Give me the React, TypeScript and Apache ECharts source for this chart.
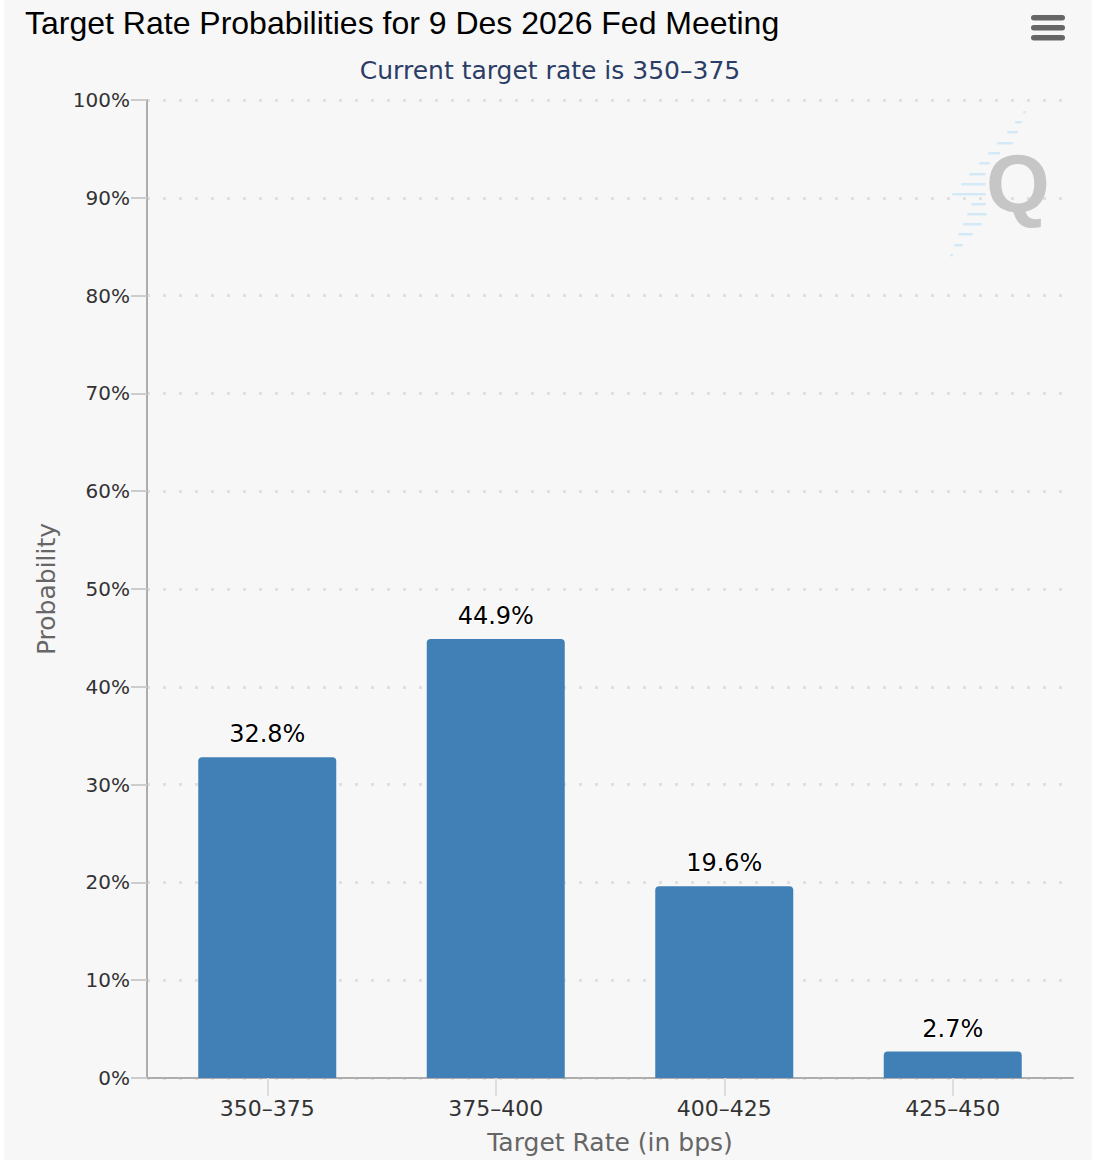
import React, { useEffect, useRef } from "react";
import * as echarts from "echarts";

const chartTitle = "Target Rate Probabilities for 9 Des 2026 Fed Meeting";
const chartSubtitle = "Current target rate is 350–375";
const categories = ["350–375", "375–400", "400–425", "425–450"];
const probabilities = [32.8, 44.9, 19.6, 2.7];
const xAxisTitle = "Target Rate (in bps)";
const yAxisTitle = "Probability";
const yMin = 0;
const yMax = 100;
const yStep = 10;

// decorative logo stripes: [y, x1, x2] in container pixels
const logoStripes: number[][] = [
  [111, 1019, 1022],
  [121, 1011, 1018],
  [131, 1003, 1014],
  [142, 993, 1009],
  [152, 984, 996],
  [162, 975, 986],
  [173, 965, 982],
  [183, 957, 982],
  [193, 948, 982],
  [203, 967, 982],
  [213, 963, 983],
  [223, 959, 978],
  [233, 954, 969],
  [244, 950, 959],
  [254, 946, 949],
];

export default function App() {
  const ref = useRef<HTMLDivElement>(null);
  useEffect(() => {
    if (!ref.current) return;
    const chart = echarts.init(ref.current, undefined, { renderer: "svg" });
    const stripeEls = logoStripes.map((s) => ({
      type: "rect",
      shape: { x: s[1], y: s[0], width: s[2] - s[1], height: 2.5, r: 1.25 },
      style: { fill: "#d3e9f8" },
      z: 1,
    }));
    const menuBars = [15, 25, 35].map((y) => ({
      type: "rect",
      shape: { x: 1027, y, width: 34, height: 5.5, r: 2.75 },
      style: { fill: "#666666" },
      z: 10,
    }));
    chart.setOption({
      animation: false,
      backgroundColor: "#f7f7f7",
      title: [
        {
          text: chartTitle,
          left: 16,
          top: 2,
          textStyle: {
            fontFamily: "Liberation Sans",
            fontSize: 32,
            fontWeight: "normal",
            color: "#000000",
          },
        },
        {
          text: chartSubtitle,
          left: 541,
          textAlign: "center",
          top: 53,
          textStyle: {
            fontFamily: "DejaVu Sans",
            fontSize: 25,
            fontWeight: "normal",
            color: "#2b3d66",
          },
        },
      ],
      graphic: [
        ...stripeEls,
        {
          type: "text",
          x: 982,
          y: 142,
          z: 2,
          style: {
            text: "Q",
            font: "bold 82px 'Liberation Sans'",
            fill: "#c6c6c6",
          },
        },
        ...menuBars,
      ],
      grid: [
        { left: 143, right: 19, top: 100, bottom: 82 },
        { left: 149, right: 25, top: 100, bottom: 82 },
      ],
      xAxis: [
        {
          gridIndex: 0,
          type: "category",
          data: [""],
          axisLine: { show: true, lineStyle: { color: "#adadad", width: 2 } },
          axisTick: { show: false },
          axisLabel: { show: false },
          splitLine: { show: false },
          name: xAxisTitle,
          nameLocation: "middle",
          nameGap: 52,
          nameTextStyle: {
            fontFamily: "DejaVu Sans",
            fontSize: 25,
            color: "#666666",
          },
        },
        {
          gridIndex: 1,
          type: "category",
          data: categories,
          axisLine: { show: false },
          axisTick: {
            show: true,
            alignWithLabel: true,
            length: 18,
            lineStyle: { color: "#dddddd", width: 2 },
          },
          axisLabel: {
            margin: 19,
            fontFamily: "DejaVu Sans",
            fontSize: 22,
            color: "#333333",
          },
          splitLine: { show: false },
        },
      ],
      yAxis: [
        {
          gridIndex: 0,
          type: "value",
          min: yMin,
          max: yMax,
          interval: yStep,
          axisLine: { show: true, lineStyle: { color: "#adadad", width: 2 } },
          axisTick: {
            show: true,
            length: 16,
            lineStyle: { color: "#cccccc", width: 2 },
          },
          axisLabel: {
            margin: 17,
            formatter: "{value}%",
            fontFamily: "DejaVu Sans",
            fontSize: 20,
            color: "#333333",
          },
          splitLine: {
            show: true,
            lineStyle: { color: "#e0e0e0", width: 3, type: [3, 13] },
          },
          name: yAxisTitle,
          nameLocation: "middle",
          nameRotate: 90,
          nameGap: 88,
          nameTextStyle: {
            fontFamily: "DejaVu Sans",
            fontSize: 25,
            color: "#666666",
          },
        },
        {
          gridIndex: 1,
          type: "value",
          min: yMin,
          max: yMax,
          interval: yStep,
          show: false,
          splitLine: { show: false },
        },
      ],
      series: [
        {
          type: "bar",
          xAxisIndex: 1,
          yAxisIndex: 1,
          data: probabilities,
          barWidth: 138,
          itemStyle: { color: "#4180b6", borderRadius: [4, 4, 0, 0] },
          label: {
            show: true,
            position: "top",
            distance: 11,
            formatter: "{c}%",
            fontFamily: "DejaVu Sans",
            fontSize: 24,
            color: "#000000",
            textBorderColor: "#ffffff",
            textBorderWidth: 2,
          },
        },
      ],
    });
    return () => chart.dispose();
  }, []);
  return (
    <div
      ref={ref}
      style={{ position: "fixed", left: 4, top: 0, width: 1088, height: 1160 }}
    />
  );
}
